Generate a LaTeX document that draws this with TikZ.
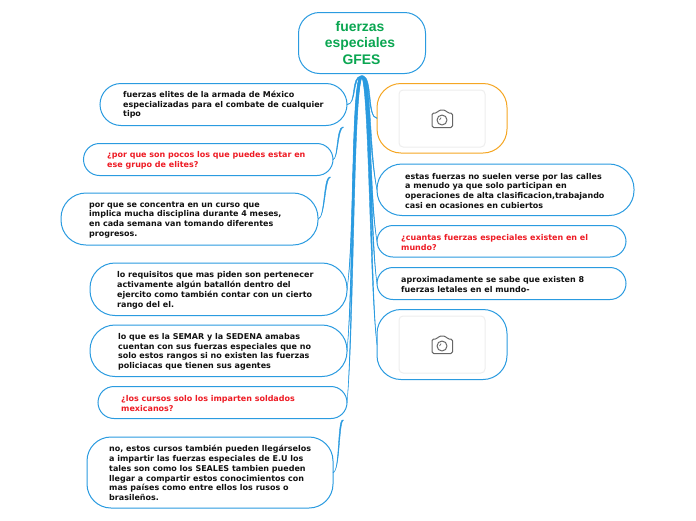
\documentclass[tikz,border=0pt]{standalone}
\usepackage{fontspec}
\setmainfont{DejaVu Sans}
\newfontfamily\titlefont{Liberation Sans}
\definecolor{linkblue}{HTML}{2A9BE0}
\definecolor{orangeb}{HTML}{F5A623}
\definecolor{redtxt}{HTML}{EE1C25}
\definecolor{greentxt}{HTML}{0AA651}
\definecolor{inktxt}{HTML}{111111}
\definecolor{cardgray}{HTML}{EEEEEE}
\definecolor{icongray}{HTML}{666666}
\tikzset{
  x=1pt,y=-1pt,
  boxshape/.style={draw=linkblue,line width=1pt,fill=white,inner sep=0pt,outer sep=0pt},
  orangeshape/.style={boxshape,draw=orangeb},
  card/.style={draw=cardgray,line width=1pt,fill=white,inner sep=0pt,outer sep=0pt},
  body/.style={anchor=west,align=left,inner sep=0pt,yshift=-.7pt,text=inktxt,font=\fontsize{8}{9.75}\selectfont\bfseries},
  ask/.style={body,text=redtxt},
  titletxt/.style={align=center,inner sep=0pt,text=greentxt,font=\titlefont\fontsize{13.9}{16.5}\selectfont\bfseries},
  link/.style={fill=linkblue,draw=linkblue,line width=.4pt,line join=round},
  icon/.style={draw=icongray,line width=1pt,line join=round},
}
% \bx{name}{x0}{y0}{x1}{y1}{radius}{style}
\newcommand{\bx}[7]{%
  \pgfmathsetmacro{\cxv}{(#2+#4)/2}\pgfmathsetmacro{\cyv}{(#3+#5)/2}%
  \pgfmathsetmacro{\wv}{#4-#2}\pgfmathsetmacro{\hv}{#5-#3}%
  \node[#7,rounded corners=#6pt,minimum width=\wv pt,minimum height=\hv pt] (#1) at (\cxv,\cyv) {};}
% tapered connector: \lnk{start}{width}{c1}{c2}{end}
\newcommand{\lnk}[5]{%
  \fill[link] ([xshift=-#2pt]#1) .. controls ([xshift=-#2pt]#3) and ([xshift=-.5*#2pt]#4) .. ([yshift=-.3pt]#5)
     -- ([yshift=.3pt]#5) .. controls ([xshift=.5*#2pt]#4) and ([xshift=#2pt]#3) .. ([xshift=#2pt]#1) -- cycle;}
% camera: \cam{name}
\newcommand{\cam}[1]{%
  \draw[icon,rounded corners=1.6pt] ([shift={(-10,-5.5)}]#1.center) -- ([shift={(-5,-5.5)}]#1.center) -- ([shift={(-3,-8.5)}]#1.center) -- ([shift={(3.5,-8.5)}]#1.center) -- ([shift={(5.5,-5.5)}]#1.center) -- ([shift={(10.5,-5.5)}]#1.center) -- ([shift={(10.5,9)}]#1.center) -- ([shift={(-10,9)}]#1.center) -- cycle;
  \draw[icon] ([shift={(0,1.5)}]#1.center) circle (5pt);
  \draw[icon,line width=.7pt] ([shift={(-2.5,1.5)}]#1.center) arc (180:110:2.5pt);}
\begin{document}
\begin{tikzpicture}
\useasboundingbox (0,0) rectangle (696,520);
\fill[white] (0,0) rectangle (696,520);
\bx{root}{298.5}{12.5}{425.5}{73.5}{21}{boxshape}
\bx{n1}{100}{83.5}{347}{125.5}{21}{boxshape}
\bx{n2}{83.5}{143.5}{333}{175.5}{16}{boxshape}
\bx{n3}{61}{193}{318}{245}{25}{boxshape}
\bx{n4}{90}{263}{347}{315.5}{25}{boxshape}
\bx{n5}{90}{325}{347}{376.5}{25}{boxshape}
\bx{n6}{98}{386.5}{347}{418.5}{16}{boxshape}
\bx{n7}{87}{437}{333}{508}{24}{boxshape}
\bx{r1}{377}{83.5}{507}{153}{24}{orangeshape}
\bx{r2}{377}{164}{634}{215.5}{25}{boxshape}
\bx{r3}{377}{225.5}{626}{257}{16}{boxshape}
\bx{r4}{377}{267.5}{626}{299.5}{16}{boxshape}
\bx{r5}{377}{309.5}{507}{379.5}{24}{boxshape}
\bx{c1}{399}{90}{485}{147}{4}{card}
\bx{c2}{399}{316}{485}{373}{4}{card}
\cam{c1}
\cam{c2}
\coordinate (hub) at (362,76);
\lnk{hub}{0.7}{351,76}{357,105}{n1.east}
\lnk{hub}{1.1}{352,76}{355,235}{n4.east}
\lnk{hub}{1.1}{352,76}{354,280}{n5.east}
\lnk{hub}{1.1}{352,76}{354,330}{n6.east}
\lnk{hub}{0.7}{372,76}{367,118}{r1.west}
\lnk{hub}{1.1}{370,76}{369,150}{r2.west}
\lnk{hub}{1.1}{370,76}{369,195}{r3.west}
\lnk{hub}{1.1}{370,76}{370,235}{r4.west}
\lnk{hub}{1.1}{370,76}{370,290}{r5.west}
\coordinate (n1b) at (343,127);
\coordinate (n2b) at (330,177);
\coordinate (n6b) at (343,420);
\lnk{n1b}{.6}{337,128}{338,160}{n2.east}
\lnk{n2b}{.6}{324,178}{325,219}{n3.east}
\lnk{n6b}{.6}{338,421}{340,472}{n7.east}
\node[titletxt] (t0) at (360,43) {fuerzas\\especiales\\\hspace{3pt}GFES};
\node[body] (t1) at (123,104) {fuerzas elites de la armada de México\\especializadas para el combate de cualquier\\tipo};
\node[ask] (t2) at (107,159.5) {¿por que son pocos los que puedes estar en\\ese grupo de elites?};
\node[body] (t3) at (89,219) {por que se concentra en un curso que\\implica mucha disciplina durante 4 meses,\\en cada semana van tomando diferentes\\progresos.};
\node[body] (t4) at (117,289.5) {lo requisitos que mas piden son pertenecer\\activamente algún batallón dentro del\\ejercito como también contar con un cierto\\rango del el.};
\node[body] (t5) at (118,351) {lo que es la SEMAR y la SEDENA amabas\\cuentan con sus fuerzas especiales que no\\solo estos rangos si no existen las fuerzas\\policiacas que tienen sus agentes};
\node[ask] (t6) at (121,403) {¿los cursos solo los imparten soldados\\mexicanos?};
\node[body] (t7) at (109,472.5) {no, estos cursos también pueden llegárselos\\a impartir las fuerzas especiales de E.U los\\tales son como los SEALES tambien pueden\\llegar a compartir estos conocimientos con\\mas países como entre ellos los rusos o\\brasileños.};
\node[body] (t8) at (405,190) {estas fuerzas no suelen verse por las calles\\a menudo ya que solo participan en\\operaciones de alta clasificacion,trabajando\\casi en ocasiones en cubiertos};
\node[ask] (t9) at (401,241.5) {¿cuantas fuerzas especiales existen en el\\mundo?};
\node[body] (t10) at (401,283.5) {aproximadamente se sabe que existen 8\\fuerzas letales en el mundo-};
\end{tikzpicture}
\end{document}
